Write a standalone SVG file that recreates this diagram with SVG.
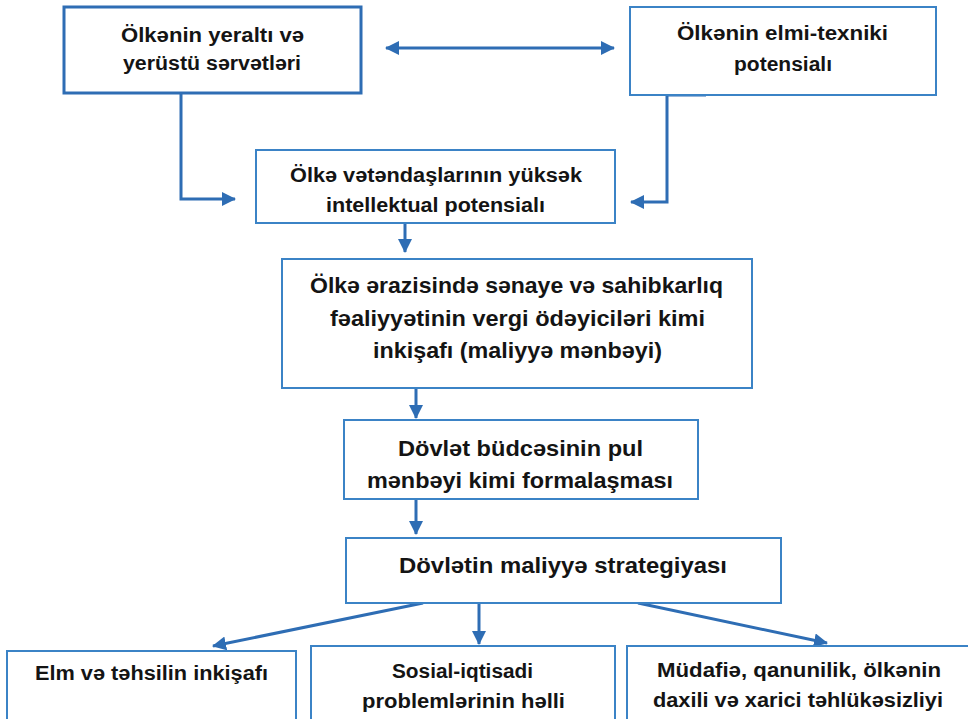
<svg xmlns="http://www.w3.org/2000/svg" width="968" height="719" viewBox="0 0 968 719">
<defs>
<style>
.box{fill:#ffffff;stroke:#3b83c6;stroke-width:2}
.boxb{fill:#ffffff;stroke:#2e6db4;stroke-width:3}
.conn{fill:none;stroke:#2e6db4;stroke-width:3}
text{font-family:"Liberation Sans",Arial,sans-serif;font-weight:bold;fill:#141414;text-anchor:middle;font-size:19.5px}
.big text{font-size:21.5px}
</style>
<marker id="ah" viewBox="0 0 14 14" refX="13" refY="7" markerWidth="14" markerHeight="14" markerUnits="userSpaceOnUse" orient="auto-start-reverse">
<path d="M0,0 L14,7 L0,14 z" fill="#2e6db4"/>
</marker>
</defs>
<rect width="968" height="719" fill="#ffffff"/>

<g id="connectors">
<line class="conn" x1="386" y1="48" x2="614" y2="48" marker-start="url(#ah)" marker-end="url(#ah)"/>
<polyline class="conn" points="181,93 181,199 235,199" marker-end="url(#ah)"/>
<polyline class="conn" points="706,95 667,95 667,202 631,202" marker-end="url(#ah)"/>
<line class="conn" x1="405" y1="223" x2="405" y2="252" marker-end="url(#ah)"/>
<line class="conn" x1="416" y1="388" x2="416" y2="418" marker-end="url(#ah)"/>
<line class="conn" x1="416" y1="500" x2="416" y2="534" marker-end="url(#ah)"/>
<line class="conn" x1="423" y1="603" x2="213" y2="646" marker-end="url(#ah)"/>
<line class="conn" x1="479" y1="603" x2="479" y2="644" marker-end="url(#ah)"/>
<line class="conn" x1="638" y1="603" x2="827" y2="643" marker-end="url(#ah)"/>
</g>

<g id="n1">
<rect class="boxb" x="64" y="7" width="297" height="86"/>
<text x="212.5" y="42" textLength="183" lengthAdjust="spacingAndGlyphs">Ölkənin yeraltı və</text>
<text x="212" y="70" textLength="178" lengthAdjust="spacingAndGlyphs">yerüstü sərvətləri</text>
</g>

<g id="n2">
<rect class="box" x="630" y="7" width="306" height="88"/>
<text x="782.5" y="40" textLength="211" lengthAdjust="spacingAndGlyphs">Ölkənin elmi-texniki</text>
<text x="783" y="71" textLength="98" lengthAdjust="spacingAndGlyphs">potensialı</text>
</g>

<g id="n3">
<rect class="box" x="256" y="150" width="359" height="73"/>
<text x="436" y="182" textLength="292" lengthAdjust="spacingAndGlyphs">Ölkə vətəndaşlarının yüksək</text>
<text x="435.5" y="212" textLength="219" lengthAdjust="spacingAndGlyphs">intellektual potensialı</text>
</g>

<g id="n4" class="big">
<rect class="box" x="282" y="259" width="470" height="129"/>
<text x="516.5" y="293" textLength="413" lengthAdjust="spacingAndGlyphs">Ölkə ərazisində sənaye və sahibkarlıq</text>
<text x="517.5" y="326" textLength="375" lengthAdjust="spacingAndGlyphs">fəaliyyətinin vergi ödəyiciləri kimi</text>
<text x="517.5" y="358" textLength="289" lengthAdjust="spacingAndGlyphs">inkişafı (maliyyə mənbəyi)</text>
</g>

<g id="n5" class="big">
<rect class="box" x="344" y="420" width="354" height="79"/>
<text x="520.5" y="456" textLength="245" lengthAdjust="spacingAndGlyphs">Dövlət büdcəsinin pul</text>
<text x="520" y="488" textLength="306" lengthAdjust="spacingAndGlyphs">mənbəyi kimi formalaşması</text>
</g>

<g id="n6" class="big">
<rect class="box" x="346" y="538" width="435" height="65"/>
<text x="563" y="573" textLength="328" lengthAdjust="spacingAndGlyphs">Dövlətin maliyyə strategiyası</text>
</g>

<g id="n7">
<rect class="box" x="7" y="651" width="289" height="80"/>
<text x="151.5" y="680" textLength="233" lengthAdjust="spacingAndGlyphs">Elm və təhsilin inkişafı</text>
</g>

<g id="n8">
<rect class="box" x="311" y="646" width="304" height="85"/>
<text x="462.5" y="678" textLength="141" lengthAdjust="spacingAndGlyphs">Sosial-iqtisadi</text>
<text x="463.5" y="708" textLength="203" lengthAdjust="spacingAndGlyphs">problemlərinin həlli</text>
</g>

<g id="n9">
<rect class="box" x="627" y="646" width="345" height="85"/>
<text x="799" y="677" textLength="284" lengthAdjust="spacingAndGlyphs">Müdafiə, qanunilik, ölkənin</text>
<text x="798" y="707" textLength="290" lengthAdjust="spacingAndGlyphs">daxili və xarici təhlükəsizliyi</text>
</g>
</svg>
